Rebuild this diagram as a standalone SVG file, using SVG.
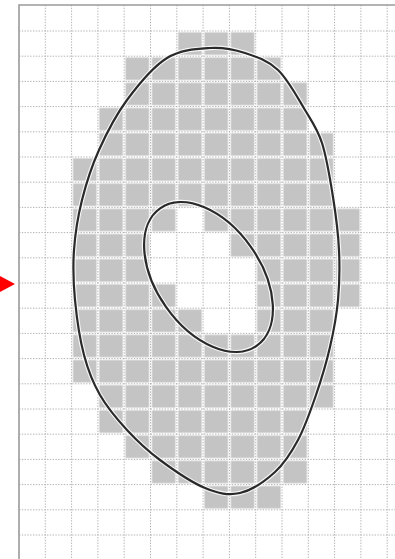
<svg xmlns="http://www.w3.org/2000/svg" width="395" height="559" viewBox="0 0 395 559">
<style>
.grid{fill:none;stroke:#b4b4b4;stroke-width:1;stroke-dasharray:1.4 1.4}
.frame{fill:none;stroke:#9a9a9a;stroke-width:1.6}
.halo{fill:none;stroke:#ffffff;stroke-width:4.5;opacity:0.85}
.curve{fill:none;stroke:#2a2a2a;stroke-width:2.2}
.run{fill:url(#cell)}
</style>
<defs>
<pattern id="cell" x="19" y="5.8" width="26.3" height="25.2" patternUnits="userSpaceOnUse">
<rect x="1.4" y="1.4" width="23.5" height="22.4" fill="#c4c4c4"/>
</pattern>
<path id="outer-path" d="M210 48C223 47.17 233.67 49.33 245 53C256.33 56.67 268 60.5 278 70C288 79.5 297.67 97.83 305 110C312.33 122.17 317.33 128.5 322 143C326.67 157.5 330.17 179.17 333 197C335.83 214.83 338.170 232.83 339 250C339.83 267.17 339.5 283.83 338 300C336.5 316.17 333.67 331.17 330 347C326.33 362.83 321.33 379.5 316 395C310.67 410.5 304.83 427.17 298 440C291.17 452.83 284.67 463.17 275 472C265.33 480.83 251.67 490.33 240 493C228.33 495.67 218.33 493.5 205 488C191.67 482.5 173 469.67 160 460C147 450.33 137 440.83 127 430C117 419.17 107.17 407.5 100 395C92.83 382.5 88.17 370.83 84 355C79.83 339.17 76.67 317.5 75 300C73.33 282.5 72.83 266.67 74 250C75.17 233.33 77.83 216.67 82 200C86.17 183.33 91.5 166.67 99 150C106.5 133.33 115.67 115.330 127 100C138.33 84.67 153.17 66.67 167 58C180.83 49.33 197 48.83 210 48Z"/>
</defs>
<rect width="395" height="559" fill="#ffffff"/>
<g id="cells">
<rect class="run" x="176.8" y="31" width="78.9" height="25.2"/>
<rect class="run" x="124.2" y="56.2" width="157.8" height="25.2"/>
<rect class="run" x="124.2" y="81.4" width="184.1" height="25.2"/>
<rect class="run" x="97.9" y="106.6" width="210.4" height="25.2"/>
<rect class="run" x="97.9" y="131.8" width="236.7" height="25.2"/>
<rect class="run" x="71.6" y="157" width="263" height="25.2"/>
<rect class="run" x="71.6" y="182.2" width="263" height="25.2"/>
<rect class="run" x="71.6" y="207.4" width="105.2" height="25.2"/>
<rect class="run" x="203.1" y="207.4" width="157.8" height="25.2"/>
<rect class="run" x="71.6" y="232.6" width="78.9" height="25.2"/>
<rect class="run" x="229.4" y="232.6" width="131.5" height="25.2"/>
<rect class="run" x="71.6" y="257.8" width="78.9" height="25.2"/>
<rect class="run" x="255.7" y="257.8" width="105.2" height="25.2"/>
<rect class="run" x="71.6" y="283" width="105.2" height="25.2"/>
<rect class="run" x="255.7" y="283" width="105.2" height="25.2"/>
<rect class="run" x="71.6" y="308.2" width="131.5" height="25.2"/>
<rect class="run" x="255.7" y="308.2" width="78.9" height="25.2"/>
<rect class="run" x="71.6" y="333.4" width="263" height="25.2"/>
<rect class="run" x="71.6" y="358.6" width="263" height="25.2"/>
<rect class="run" x="97.9" y="383.8" width="236.7" height="25.2"/>
<rect class="run" x="97.9" y="409" width="210.4" height="25.2"/>
<rect class="run" x="124.2" y="434.2" width="184.1" height="25.2"/>
<rect class="run" x="150.5" y="459.4" width="157.8" height="25.2"/>
<rect class="run" x="203.1" y="484.6" width="78.9" height="25.2"/>
</g>
<g id="grid">
<path class="grid" d="M45.3 5V559M71.6 5V559M97.9 5V559M124.2 5V559M150.5 5V559M176.8 5V559M203.1 5V559M229.4 5V559M255.7 5V559M282 5V559M308.3 5V559M334.6 5V559M360.9 5V559M387.2 5V559"/>
<path class="grid" d="M19 31H395M19 56.2H395M19 81.4H395M19 106.6H395M19 131.8H395M19 157H395M19 182.2H395M19 207.4H395M19 232.6H395M19 257.8H395M19 283H395M19 308.2H395M19 333.4H395M19 358.6H395M19 383.8H395M19 409H395M19 434.2H395M19 459.4H395M19 484.6H395M19 509.8H395M19 535H395"/>
<path class="frame" d="M19 559V5H395"/>
</g>
<g id="outer-boundary">
<use href="#outer-path" class="halo"/>
<use href="#outer-path" class="curve"/>
</g>
<g id="inner-boundary">
<ellipse class="halo" cx="208.5" cy="277" rx="84" ry="52" transform="rotate(54.85 208.5 277)"/>
<ellipse class="curve" cx="208.5" cy="277" rx="84" ry="52" transform="rotate(54.85 208.5 277)"/>
</g>
<g id="marker-arrow">
<polygon points="0,276 15,284 0,292" fill="#ff0000"/>
</g>
</svg>
